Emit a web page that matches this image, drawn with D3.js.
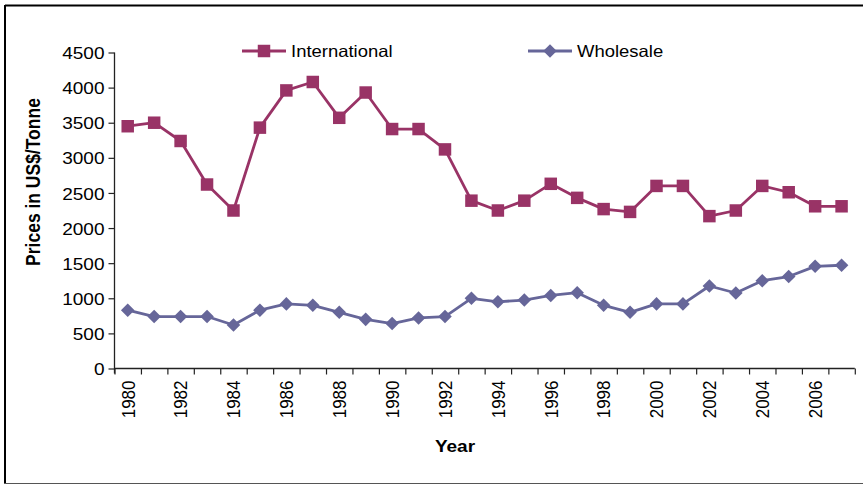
<!DOCTYPE html>
<html>
<head>
<meta charset="utf-8">
<script src="https://cdn.jsdelivr.net/npm/d3@7"></script>
<style>
  html, body { margin: 0; padding: 0; background: #fff; }
  svg { display: block; }
  text { font-family: "Liberation Sans", Arial, sans-serif; fill: #000; }
</style>
</head>
<body>
<svg id="chart" width="863" height="488"></svg>
<script>
// Rice prices 1980-2007, US$ per tonne
const years = d3.range(1980, 2008);
const international = [3450, 3500, 3240, 2620, 2250, 3430, 3960, 4080, 3570, 3930,
                       3410, 3410, 3120, 2390, 2250, 2390, 2630, 2430, 2270, 2230,
                       2600, 2600, 2170, 2250, 2600, 2510, 2310, 2310];
const wholesale = [830, 740, 740, 740, 620, 830, 920, 900, 800, 700,
                   640, 720, 740, 1000, 950, 975, 1040, 1080, 900, 800,
                   920, 920, 1175, 1075, 1250, 1310, 1455, 1470];
const yTicks = d3.range(0, 4501, 500);
const yearLabels = years.filter(y => y % 2 === 0);
const seriesNames = ["International", "Wholesale"];
const colors = { International: "#993366", Wholesale: "#666699" };

const svg = d3.select("#chart");
const STRETCH = 1.12;   // horizontal text is drawn slightly wide
const FS = 17;

// frame
svg.append("line").attr("x1", 5).attr("x2", 863).attr("y1", 5.5).attr("y2", 5.5)
  .attr("stroke", "#000").attr("stroke-width", 2);
svg.append("line").attr("x1", 5).attr("x2", 5).attr("y1", 5).attr("y2", 483)
  .attr("stroke", "#000").attr("stroke-width", 2);
svg.append("line").attr("x1", 4).attr("x2", 863).attr("y1", 483.5).attr("y2", 483.5)
  .attr("stroke", "#555").attr("stroke-width", 1);

const plotL = 114.5, plotR = 854.8, plotT = 52.5, plotB = 368.5;

const x = d3.scaleBand().domain(years).range([plotL, plotR]).padding(0);
const xEdge = d3.scaleLinear().domain([0, years.length]).range([plotL, plotR]);
const y = d3.scaleLinear().domain([0, 4500]).range([plotB, plotT]);
const cx = d => x(d) + x.bandwidth() / 2;

// y axis
const gy = svg.append("g").attr("transform", `translate(${plotL},0)`)
  .call(d3.axisLeft(y).tickValues(yTicks).tickSize(6).tickPadding(0).tickFormat(d3.format("d")));
gy.select(".domain").attr("stroke", "#222").attr("stroke-width", 1.3).attr("d", `M0,${plotT}V${plotB + 5}`);
gy.selectAll(".tick line").attr("stroke", "#222").attr("stroke-width", 1.2);
gy.selectAll(".tick text")
  .attr("x", -10 / STRETCH).attr("dy", "0.36em")
  .attr("transform", `scale(${STRETCH},1)`)
  .style("font-size", FS + "px").style("font-family", "Liberation Sans, Arial, sans-serif");

// x axis tick marks at category boundaries
const gxt = svg.append("g").attr("transform", `translate(0,${plotB})`)
  .call(d3.axisBottom(xEdge).tickValues(d3.range(years.length + 1)).tickSize(6).tickFormat(""));
gxt.select(".domain").attr("stroke", "#222").attr("stroke-width", 1.3).attr("d", `M${plotL},0H${plotR}`);
gxt.selectAll(".tick line").attr("stroke", "#222").attr("stroke-width", 1.2);

// x axis labels, rotated
const gx = svg.append("g").attr("transform", `translate(0,${plotB})`)
  .call(d3.axisBottom(x).tickValues(yearLabels).tickSize(0).tickPadding(0));
gx.select(".domain").remove();
gx.selectAll(".tick text")
  .attr("transform", `rotate(-90) scale(1,${STRETCH})`)
  .attr("x", -12).attr("y", 0).attr("dy", "0.36em")
  .style("text-anchor", "end")
  .style("font-size", FS + "px").style("font-family", "Liberation Sans, Arial, sans-serif");

// axis titles
svg.append("text")
  .attr("transform", `translate(455,446) scale(${STRETCH},1)`)
  .attr("text-anchor", "middle").attr("dy", "0.36em")
  .style("font-size", "17px").style("font-weight", "bold")
  .text("Year");
svg.append("text")
  .attr("transform", `translate(33,182) rotate(-90) scale(1,${STRETCH})`)
  .attr("text-anchor", "middle").attr("dy", "0.36em")
  .style("font-size", "17.5px").style("font-weight", "bold")
  .text("Prices in US$/Tonne");

// series
const seriesData = { International: international, Wholesale: wholesale };
const squareSym = d3.symbol(d3.symbolSquare, 156);
const diamondSym = d3.symbol(d3.symbolSquare, 92);
const markerPath = { International: squareSym(), Wholesale: diamondSym() };
const markerRot = { International: 0, Wholesale: 45 };

const line = d3.line().x((d, i) => cx(years[i])).y(d => y(d));

seriesNames.forEach(name => {
  const vals = seriesData[name];
  svg.append("path").datum(vals)
    .attr("d", line).attr("fill", "none")
    .attr("stroke", colors[name]).attr("stroke-width", 2.8)
    .attr("stroke-linejoin", "round");
  svg.append("g").selectAll("path").data(vals).join("path")
    .attr("d", markerPath[name])
    .attr("transform", (d, i) => `translate(${cx(years[i])},${y(d)}) rotate(${markerRot[name]})`)
    .attr("fill", colors[name]);
});

// legend
const legendPos = { International: 264, Wholesale: 550 };
seriesNames.forEach(name => {
  const lx = legendPos[name], ly = 51;
  const g = svg.append("g").attr("transform", `translate(${lx},${ly})`);
  g.append("line").attr("x1", -22).attr("x2", 22).attr("y1", 0).attr("y2", 0)
    .attr("stroke", colors[name]).attr("stroke-width", 2.8);
  g.append("path").attr("d", markerPath[name])
    .attr("transform", `rotate(${markerRot[name]})`).attr("fill", colors[name]);
  g.append("text")
    .attr("transform", `translate(27,0) scale(${STRETCH},1)`)
    .attr("dy", "0.36em")
    .style("font-size", "16.5px")
    .text(name);
});
</script>
</body>
</html>
